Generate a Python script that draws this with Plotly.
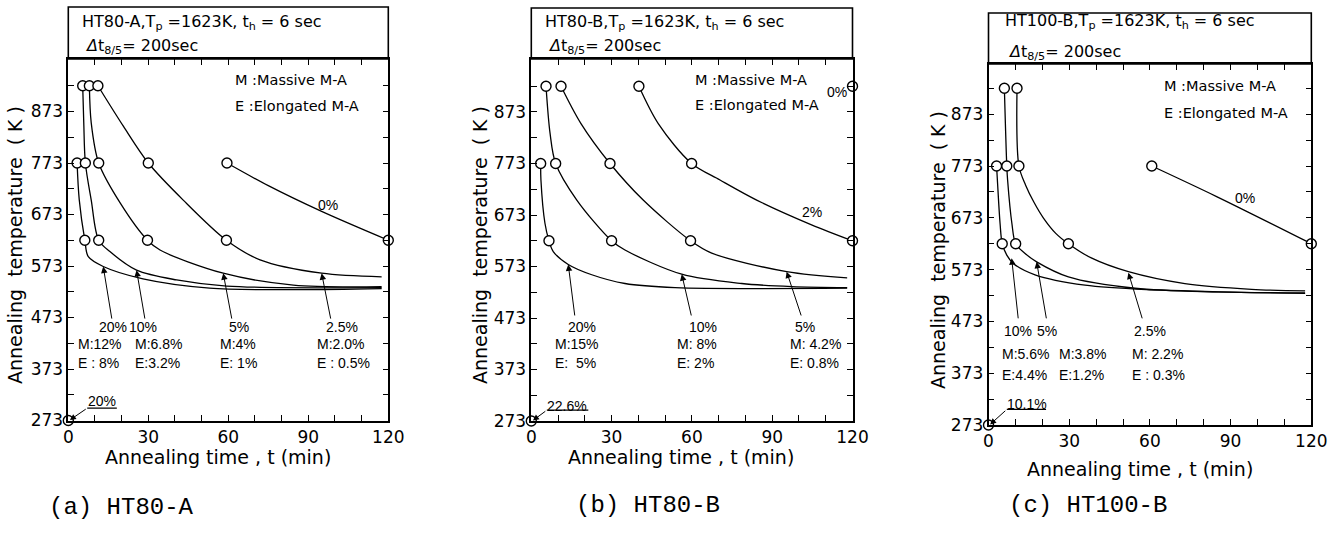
import plotly.graph_objects as go

W, H = 1335, 540
FONT = "DejaVu Sans"
LFONT = "Liberation Sans"
MONO = "Liberation Mono"

# ---------------- data : (a) HT80-A ----------------
a_circ_t = [5.4, 7.9, 11.1, 3.3, 6.4, 11.4, 30.0, 59.5, 6.2, 11.4, 29.7, 59.3, 120.0, 0.0]
a_circ_k = [923, 923, 923, 773, 773, 773, 773, 773, 623, 623, 623, 623, 623, 273]
a_c0_t = [59.5, 75.0, 95.0, 120.0]
a_c0_k = [773, 729, 679, 623]
a_c25_t = [11.1, 20.7, 30.0, 43.1, 59.3, 71.9, 95.0, 117.5]
a_c25_k = [923, 844, 773, 701, 623, 585, 559, 552]
a_c5_t = [7.9, 8.6, 11.4, 19.5, 29.7, 34.4, 58.1, 84.4, 117.5]
a_c5_k = [923, 851, 773, 695, 623, 604, 559, 536, 533]
a_c10_t = [5.4, 5.8, 6.4, 8.6, 11.4, 15.6, 25.6, 40.6, 59.4, 117.5]
a_c10_k = [923, 851, 773, 701, 623, 601, 565, 546, 534, 531]
a_c20_t = [3.3, 4.1, 6.2, 7.5, 13.1, 28.0, 53.0, 85.0, 117.5]
a_c20_k = [773, 702, 623, 591, 572, 548, 530, 527, 529]

# ---------------- data : (b) HT80-B ----------------
b_circ_t = [5.5, 11.1, 40.2, 120.0, 3.5, 9.1, 29.4, 59.9, 6.6, 30.0, 59.5, 120.0, 0.0]
b_circ_k = [923, 923, 923, 923, 773, 773, 773, 773, 623, 623, 623, 623, 273]
b_c2_t = [40.2, 47.5, 59.9, 70.5, 84.2, 104.7, 120.0]
b_c2_k = [923, 850, 773, 741, 702, 654, 623]
b_c5_t = [11.1, 18.5, 29.4, 41.8, 59.5, 67.4, 95.4, 118.0]
b_c5_k = [923, 851, 773, 702, 623, 599, 563, 551]
b_c10_t = [5.5, 7.0, 9.1, 17.0, 30.0, 35.0, 56.2, 78.6, 97.3, 118.0]
b_c10_k = [923, 832, 773, 702, 623, 605, 558, 540, 534, 532]
b_c20_t = [3.5, 3.6, 5.1, 6.6, 8.2, 13.8, 22.6, 35.0, 53.7, 118.0]
b_c20_k = [773, 741, 657, 623, 602, 577, 557, 540, 532, 531]

# ---------------- data : (c) HT100-B ----------------
c_circ_t = [5.9, 10.6, 3.0, 6.8, 11.3, 60.7, 5.1, 10.1, 29.7, 120.0, 0.0]
c_circ_k = [923, 923, 773, 773, 773, 773, 623, 623, 623, 623, 273]
c_c0_t = [60.7, 84.8, 120.0]
c_c0_k = [773, 714, 623]
c_c25_t = [10.6, 11.3, 13.8, 16.9, 20.5, 25.0, 29.7, 38.4, 52.0, 73.0, 97.8, 117.7]
c_c25_k = [923, 773, 736, 703, 672, 643, 623, 595, 569, 546, 535, 532]
c_c5_t = [5.9, 6.8, 7.1, 8.7, 10.1, 13.6, 17.9, 29.7, 54.5, 85.4, 117.7]
c_c5_k = [923, 773, 746, 662, 623, 604, 588, 559, 537, 530, 528]
c_c10_t = [3.0, 3.3, 4.3, 5.1, 6.8, 9.2, 17.3, 35.9, 60.7, 117.7]
c_c10_k = [773, 746, 662, 623, 601, 585, 563, 543, 534, 527]

# ---------------- labels ----------------
x_ticks = list(range(0, 121, 10))
x_labels = [str(v) if v % 30 == 0 else "" for v in x_ticks]
y_ticks = list(range(273, 924, 50))
y_labels = [str(v) if (v - 273) % 100 == 0 else "" for v in y_ticks]

titles1 = ["HT80-A,T<sub>p</sub> =1623K, t<sub>h</sub> = 6 sec",
           "HT80-B,T<sub>p</sub> =1623K, t<sub>h</sub> = 6 sec",
           "HT100-B,T<sub>p</sub> =1623K, t<sub>h</sub> = 6 sec"]
title2 = "<i>Δ</i>t<sub>8/5</sub>= 200sec"
captions = ["(a) HT80-A", "(b) HT80-B", "(c) HT100-B"]

# arrows: (label, tip_t, tip_k, tail_t, tail_k)
a_arrows = [("20%", 13.1, 572, 16.4, 468), ("10%", 25.6, 565, 28.8, 468),
            ("5%", 58.1, 559, 61.4, 468), ("2.5%", 95.0, 559, 98.5, 468)]
b_arrows = [("20%", 13.8, 577, 16.3, 475), ("10%", 56.2, 558, 59.9, 475),
            ("5%", 95.4, 563, 101.0, 475)]
c_arrows = [("10%", 8.6, 595, 11.1, 476), ("5%", 17.9, 588, 21.6, 476),
            ("2.5%", 52.0, 567, 57.3, 476)]
# percent label positions (t, K)
a_pct = [("20%", 16.8, 455), ("10%", 28.1, 455), ("5%", 64.0, 455), ("2.5%", 102.6, 455)]
b_pct = [("20%", 18.8, 456), ("10%", 64.3, 456), ("5%", 102.2, 456)]
c_pct = [("10%", 11.1, 454), ("5%", 21.6, 454), ("2.5%", 60.0, 454)]
# M / E composition text (M, E, left t)
a_me = [("M:12%", "E : 8%", 2.9), ("M:6.8%", "E:3.2%", 24.3), ("M:4%", "E: 1%", 56.1), ("M:2.0%", "E : 0.5%", 92.5)]
b_me = [("M:15%", "E:  5%", 8.1), ("M: 8%", "E: 2%", 53.6), ("M: 4.2%", "E: 0.8%", 95.9)]
c_me = [("M:5.6%", "E:4.4%", 4.3), ("M:3.8%", "E:1.2%", 25.4), ("M: 2.2%", "E : 0.3%", 52.6)]
me_k = [(421, 385), (422, 385), (410, 370)]
# curve name labels (text, t, K)
extra_lbl = [[("0%", 97.5, 691)], [("2%", 104.7, 679), ("0%", 114.3, 912)], [("0%", 95.4, 711)]]
# zero-time point annotation: text, text_t, text_K, underline t0, t1, K
zero_lbl = [("20%", 12.5, 310, 7.1, 18.2, 297), ("22.6%", 13.4, 303, 5.8, 21.3, 294),
            ("10.1%", 14.2, 314, 6.8, 21.4, 303)]
legend_pos = [(61.8, 934, 884), (60.5, 935, 886), (64.4, 927, 875)]

# ---------------- layout geometry (pixels) ----------------
# x0px, x1px, ybottom px, ytop px, y-range top, title-box top px, title x, line1 y, line2 y
geo = [(68.3, 388.3, 420.5, 59, 975.0, 7, 80, 22.7, 47),
       (531.3, 852.5, 421, 59, 975.9, 8, 543, 22, 47),
       (988.5, 1311.3, 425, 64, 969.9, 13, 1003, 21.7, 53)]
xtitle_pos = [(218, 457), (681, 457), (1140, 469)]
ytitle_pos = [(15, 245), (480, 245), (938, 250)]
caption_pos = [(121, 507), (648, 505), (1088, 505)]

fig = go.Figure()

curves = [
    [(a_c0_t, a_c0_k), (a_c25_t, a_c25_k), (a_c5_t, a_c5_k), (a_c10_t, a_c10_k), (a_c20_t, a_c20_k)],
    [(b_c2_t, b_c2_k), (b_c5_t, b_c5_k), (b_c10_t, b_c10_k), (b_c20_t, b_c20_k)],
    [(c_c0_t, c_c0_k), (c_c25_t, c_c25_k), (c_c5_t, c_c5_k), (c_c10_t, c_c10_k)],
]
circles = [(a_circ_t, a_circ_k), (b_circ_t, b_circ_k), (c_circ_t, c_circ_k)]
arrows = [a_arrows, b_arrows, c_arrows]
pcts = [a_pct, b_pct, c_pct]
mes = [a_me, b_me, c_me]


def px2x(p):
    return p / W


def py2y(p):
    return 1 - p / H


def paper_text(x, y, text, size, family=FONT, angle=0, anchor="center"):
    fig.add_annotation(xref="paper", yref="paper", x=px2x(x), y=py2y(y), showarrow=False,
                       xanchor=anchor, yanchor="middle", textangle=angle, text=text,
                       font=dict(family=family, size=size, color="black"))


for i in range(3):
    xa = "x" if i == 0 else f"x{i+1}"
    ya = "y" if i == 0 else f"y{i+1}"
    for (t, k) in curves[i]:
        fig.add_trace(go.Scatter(x=t, y=k, mode="lines", xaxis=xa, yaxis=ya,
                                 line=dict(color="black", width=1.3, shape="spline", smoothing=0.9),
                                 showlegend=False, hoverinfo="skip"))
    fig.add_trace(go.Scatter(x=circles[i][0], y=circles[i][1], mode="markers", xaxis=xa, yaxis=ya,
                             marker=dict(symbol="circle", size=10, color="white",
                                         line=dict(color="black", width=1.4)),
                             cliponaxis=False, showlegend=False, hoverinfo="skip"))

    x0, x1, yb, yt, ytop, tbtop, tx, ty1, ty2 = geo[i]
    axis_common = dict(showline=True, linecolor="black", linewidth=1.6, mirror="allticks",
                       ticks="inside", ticklen=6, tickwidth=1.3, tickcolor="black",
                       showgrid=False, zeroline=False, automargin=False,
                       tickfont=dict(family=FONT, size=17, color="black"))
    fig.update_layout(**{
        ("xaxis" if i == 0 else f"xaxis{i+1}"): dict(
            domain=[px2x(x0), px2x(x1)], range=[0, 120], anchor=ya,
            tickvals=x_ticks, ticktext=x_labels, **axis_common),
        ("yaxis" if i == 0 else f"yaxis{i+1}"): dict(
            domain=[py2y(yb), py2y(yt)], range=[273, ytop], anchor=xa,
            tickvals=y_ticks, ticktext=y_labels, **axis_common),
    })

    # title box
    fig.add_shape(type="rect", xref="paper", yref="paper",
                  x0=px2x(x0), x1=px2x(x1), y0=py2y(yt), y1=py2y(tbtop),
                  line=dict(color="black", width=1.6))
    paper_text(tx, ty1, titles1[i], 16, anchor="left")
    paper_text(tx + 3, ty2, title2, 16, anchor="left")

    # legend text
    lt, lk1, lk2 = legend_pos[i]
    for txt, kk in (("M :Massive M-A", lk1), ("E :Elongated M-A", lk2)):
        fig.add_annotation(xref=xa, yref=ya, x=lt, y=kk, xanchor="left", yanchor="middle",
                           showarrow=False, text=txt, font=dict(family=FONT, size=14.5, color="black"))

    # arrows
    for (lab, tt, tk, at, ak) in arrows[i]:
        fig.add_annotation(xref=xa, yref=ya, axref=xa, ayref=ya, x=tt, y=tk, ax=at, ay=ak,
                           text="", showarrow=True, arrowhead=2, arrowsize=1.3, arrowwidth=1,
                           arrowcolor="black")
    for (lab, lt_, lk_) in pcts[i]:
        fig.add_annotation(xref=xa, yref=ya, x=lt_, y=lk_, showarrow=False, text=lab,
                           xanchor="center", yanchor="middle",
                           font=dict(family=LFONT, size=14, color="black"))
    mk, ek = me_k[i]
    for (mt, et, lt_) in mes[i]:
        fig.add_annotation(xref=xa, yref=ya, x=lt_, y=mk, showarrow=False, text=mt,
                           xanchor="left", yanchor="middle",
                           font=dict(family=LFONT, size=14, color="black"))
        fig.add_annotation(xref=xa, yref=ya, x=lt_, y=ek, showarrow=False, text=et,
                           xanchor="left", yanchor="middle",
                           font=dict(family=LFONT, size=14, color="black"))
    for (lab, lt_, lk_) in extra_lbl[i]:
        fig.add_annotation(xref=xa, yref=ya, x=lt_, y=lk_, showarrow=False, text=lab,
                           xanchor="center", yanchor="middle",
                           font=dict(family=LFONT, size=14, color="black"))
    # zero-time point label
    zl, zt, zk, u0, u1, uk = zero_lbl[i]
    fig.add_annotation(xref=xa, yref=ya, x=zt, y=zk, showarrow=False, text=zl,
                       xanchor="center", yanchor="middle",
                       font=dict(family=LFONT, size=14, color="black"))
    fig.add_shape(type="line", xref=xa, yref=ya, x0=u0, x1=u1, y0=uk, y1=uk,
                  line=dict(color="black", width=1.2))
    fig.add_annotation(xref=xa, yref=ya, axref=xa, ayref=ya, x=0.6, y=274, ax=u0, ay=uk,
                       text="", showarrow=True, arrowhead=2, arrowsize=1.2, arrowwidth=1,
                       arrowcolor="black")

    # axis titles and caption
    xp, yp = xtitle_pos[i]
    paper_text(xp, yp, "Annealing time , t (min)", 19)
    xp, yp = ytitle_pos[i]
    paper_text(xp, yp, "Annealing  temperature  ( K )", 19, angle=-90)
    xp, yp = caption_pos[i]
    paper_text(xp, yp, captions[i], 24, family=MONO)

fig.update_layout(width=W, height=H, margin=dict(l=0, r=0, t=0, b=0, autoexpand=False),
                  paper_bgcolor="white", plot_bgcolor="white", showlegend=False)

fig.write_html("out.html", config={"displayModeBar": False},
               post_script="document.body.style.margin='0px';document.body.style.padding='0px';")
